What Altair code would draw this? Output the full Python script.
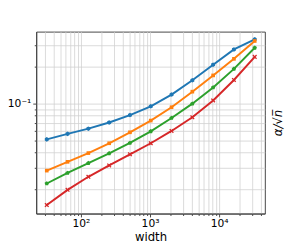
import altair as alt
import pandas as pd

widths = [32, 64, 128, 256, 512, 1024, 2048, 4096, 8192, 16384, 32768]
series_names = ["s1", "s2", "s3", "s4"]
blue = [0.0510, 0.0566, 0.0624, 0.0701, 0.0807, 0.0952, 0.1187, 0.1554, 0.2085, 0.278, 0.336]
orange = [0.0283, 0.0334, 0.0394, 0.0474, 0.0583, 0.0727, 0.0935, 0.1254, 0.1704, 0.2328, 0.326]
green = [0.0222, 0.0271, 0.0326, 0.0392, 0.0477, 0.0594, 0.0764, 0.1000, 0.1358, 0.1926, 0.2867]
red = [0.0148, 0.0197, 0.0252, 0.0312, 0.0385, 0.0474, 0.0598, 0.0773, 0.1063, 0.1563, 0.2415]

x_ticks = [30, 40, 50, 60, 70, 80, 90,
           100, 200, 300, 400, 500, 600, 700, 800, 900,
           1000, 2000, 3000, 4000, 5000, 6000, 7000, 8000, 9000,
           10000, 20000, 30000, 40000]
y_ticks = [0.02, 0.03, 0.04, 0.05, 0.06, 0.07, 0.08, 0.09, 0.1, 0.2, 0.3]

colors = ["#1f77b4", "#ff7f0e", "#2ca02c", "#d62728"]
hexagon = "M0,-1L0.866,-0.5L0.866,0.5L0,1L-0.866,0.5L-0.866,-0.5Z"
square = "M-0.8,-0.8L0.8,-0.8L0.8,0.8L-0.8,0.8Z"
pentagon = "M0,-1L0.951,-0.309L0.588,0.809L-0.588,0.809L-0.951,-0.309Z"
xmark = ("M-0.6,-1L0,-0.4L0.6,-1L1,-0.6L0.4,0L1,0.6L0.6,1L0,0.4"
         "L-0.6,1L-1,0.6L-0.4,0L-1,-0.6Z")
shapes = [hexagon, square, pentagon, xmark]

rows = []
for name, vals in zip(series_names, [blue, orange, green, red]):
    for w, v in zip(widths, vals):
        rows.append({"width": w, "value": v, "series": name})
df = pd.DataFrame(rows)

x_enc = alt.X(
    "width:Q",
    scale=alt.Scale(type="log", domain=[22.5, 45900], nice=False),
    axis=alt.Axis(
        title="width",
        values=x_ticks,
        labelExpr="datum.value == 100 ? '10²' : datum.value == 1000 ? '10³' : datum.value == 10000 ? '10⁴' : ''",
        labelOverlap=False,
        labelFlush=False,
        tickSize={"condition": {"test": "indexof([100, 1000, 10000], datum.value) >= 0", "value": 3.5}, "value": 2},
        labelPadding=1,
        titlePadding=3,
    ),
)
y_enc = alt.Y(
    "value:Q",
    scale=alt.Scale(type="log", domain=[0.0126, 0.389], nice=False),
    axis=alt.Axis(
        title="α/√n̅",
        values=y_ticks,
        labelExpr="datum.value == 0.1 ? '10⁻¹' : ''",
        labelOverlap=False,
        labelFlush=False,
        tickSize={"condition": {"test": "datum.value == 0.1", "value": 3.5}, "value": 2},
        labelPadding=2,
        titleX=248,
        titleY=93.5,
        titleAngle=270,
        titleAlign="center",
        titleBaseline="middle",
        titleFontStyle="italic",
    ),
)
color_enc = alt.Color("series:N", scale=alt.Scale(domain=series_names, range=colors), legend=None)

base = alt.Chart(df)
lines = base.mark_line(strokeWidth=2).encode(x=x_enc, y=y_enc, color=color_enc, order="width:Q")
points = base.mark_point(filled=True, size=22, opacity=1).encode(
    x=x_enc, y=y_enc, color=color_enc,
    shape=alt.Shape("series:N", scale=alt.Scale(domain=series_names, range=shapes), legend=None),
)

chart = alt.layer(lines, points).properties(
    width=235, height=187,
    autosize=alt.AutoSizeParams(type="none"),
    padding={"left": 29, "top": 21, "right": 31, "bottom": 27},
).configure_view(
    stroke="#444", strokeWidth=1
).configure_axis(
    grid=True, gridColor="#d0d0d0", gridWidth=0.8,
    domainColor="#444", tickColor="#444",
    labelFont="DejaVu Sans", titleFont="DejaVu Sans",
    labelFontSize=11, titleFontSize=12, labelColor="#000", titleColor="#000",
    titleFontWeight="normal",
)

chart.save("out.html", embed_options={"renderer": "svg", "actions": False})
